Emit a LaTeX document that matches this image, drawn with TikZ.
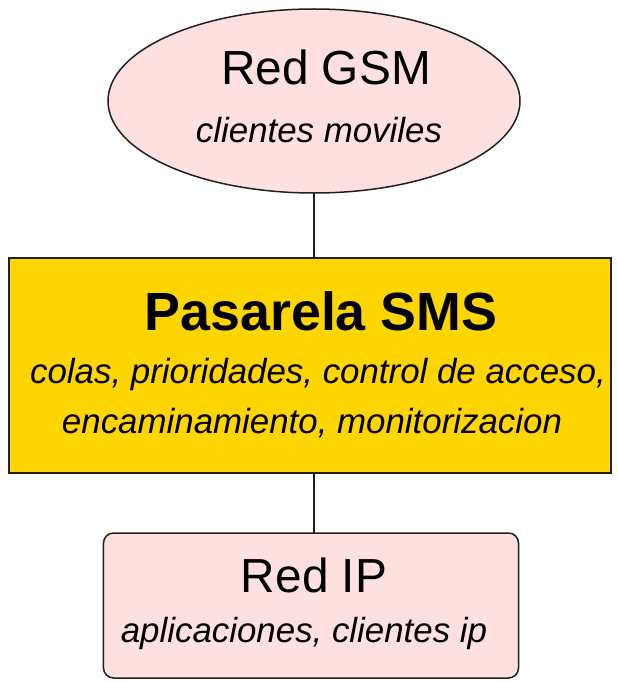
\documentclass[tikz,border=0pt]{standalone}
\usepackage{fontspec}
\setmainfont{Liberation Sans}
\usetikzlibrary{shapes.geometric}
\definecolor{pinkfill}{HTML}{FFE0E0}
\definecolor{goldfill}{HTML}{FFD500}
\definecolor{edgegray}{HTML}{202020}
\tikzset{
  shapebox/.style={draw=edgegray, inner sep=0pt, outer sep=0pt},
  title/.style={anchor=base, inner sep=0pt, font=\fontsize{48}{58}\selectfont},
  bigtitle/.style={anchor=base, inner sep=0pt, font=\fontsize{54}{64}\selectfont\bfseries},
  subtxt/.style={anchor=base, inner sep=0pt, font=\fontsize{35}{42}\selectfont\itshape},
  link/.style={draw=edgegray, line width=1.8bp}
}
\begin{document}
\begin{tikzpicture}[x=1bp,y=-1bp]
\useasboundingbox (0,0) rectangle (618,682);
% shapes
\node[shapebox, ellipse, fill=pinkfill, line width=1.5bp,
      minimum width=412bp, minimum height=184bp] (gsm) at (314,101) {};
\node[shapebox, rectangle, fill=goldfill, line width=2bp,
      minimum width=602bp, minimum height=215bp] (sms) at (310,365.5) {};
\node[shapebox, rectangle, rounded corners=10bp, fill=pinkfill, line width=1.5bp,
      minimum width=415bp, minimum height=145bp] (ip) at (311,605.5) {};
% connectors
\draw[link] (gsm.south) -- (gsm.south |- sms.north);
\draw[link] (gsm.south |- sms.south) -- (gsm.south |- ip.north);
% texts
\node[title] (gsmT) at (326,85) {Red GSM};
\node[subtxt] (gsmS) at (319,142) {clientes moviles};
\node[bigtitle] (smsT) at (321,330) {Pasarela SMS};
\node[subtxt] (smsS1) at (318,383) {colas, prioridades, control de acceso,};
\node[subtxt] (smsS2) at (312,433) {encaminamiento, monitorizacion};
\node[title] (ipT) at (314,592) {Red IP};
\node[subtxt] (ipS) at (304,642) {aplicaciones, clientes ip};
\end{tikzpicture}
\end{document}
